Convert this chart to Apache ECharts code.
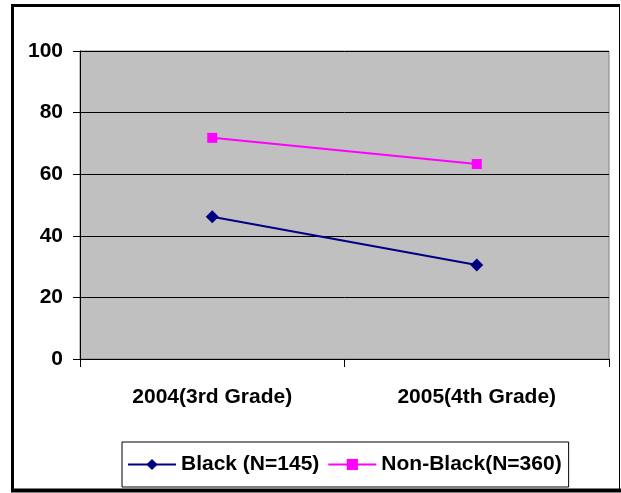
<!DOCTYPE html>
<html><head><meta charset="utf-8">
<script src="https://cdn.jsdelivr.net/npm/echarts@6/dist/echarts.min.js"></script>
<style>html,body{margin:0;padding:0;background:#fff}#c{width:621px;height:493px}</style>
</head><body><div id="c"></div>
<script>
const categories = ['2004(3rd Grade)', '2005(4th Grade)'];
const blackValues = [46.2, 30.5];
const nonBlackValues = [71.8, 63.3];
const seriesNames = ['Black (N=145)', 'Non-Black(N=360)'];
const yTicks = [0, 20, 40, 60, 80, 100];

const chart = echarts.init(document.getElementById('c'));
const font = 'Liberation Sans, Arial, sans-serif';
chart.setOption({
  animation: false,
  backgroundColor: '#fff',
  graphic: [
    {type:'rect', shape:{x:12.5,y:5.5,width:607,height:485}, style:{fill:'none', stroke:'#000', lineWidth:1}},
    {type:'line', shape:{x1:12.5,y1:4,x2:12.5,y2:492}, style:{stroke:'#000', lineWidth:3}},
    {type:'line', shape:{x1:11,y1:5.5,x2:620,y2:5.5}, style:{stroke:'#000', lineWidth:3}},
    {type:'line', shape:{x1:11,y1:490.5,x2:621,y2:490.5}, style:{stroke:'#000', lineWidth:4}}
  ],
  grid: {left:80, top:51, right:12, bottom:134, show:true, backgroundColor:'#c0c0c0', borderColor:'#808080', borderWidth:1},
  legend: {
    bottom: 6, left: 122,
    itemWidth: 48, itemHeight: 14, itemGap: 8,
    backgroundColor: '#fff', borderColor: '#000', borderWidth: 1,
    padding: [12, 7, 12, 5],
    textStyle: {fontFamily: font, fontWeight: 'bold', fontSize: 21, color: '#000'},
    data: seriesNames
  },
  xAxis: {
    type: 'category', data: categories, boundaryGap: true,
    axisLine: {lineStyle: {color: '#000', width: 1}},
    axisTick: {show: true, length: 8, lineStyle: {color: '#000'}},
    axisLabel: {margin: 28, fontFamily: font, fontWeight: 'bold', fontSize: 21, color: '#000'}
  },
  yAxis: {
    type: 'value', min: 0, max: 100, interval: 20,
    axisLine: {show: true, lineStyle: {color: '#000', width: 1}},
    axisTick: {show: true, length: 7, lineStyle: {color: '#000'}},
    splitLine: {lineStyle: {color: '#000', width: 1}},
    axisLabel: {margin: 17, fontFamily: font, fontWeight: 'bold', fontSize: 21, color: '#000',
      formatter: v => yTicks.includes(v) ? String(v) : ''}
  },
  series: [
    {name: seriesNames[0], type: 'line', data: blackValues, symbol: 'diamond', symbolSize: 13,
     lineStyle: {color: '#000080', width: 2}, itemStyle: {color: '#000080'}},
    {name: seriesNames[1], type: 'line', data: nonBlackValues, symbol: 'rect', symbolSize: 10,
     lineStyle: {color: '#ff00ff', width: 2}, itemStyle: {color: '#ff00ff'}}
  ]
});
</script></body></html>
